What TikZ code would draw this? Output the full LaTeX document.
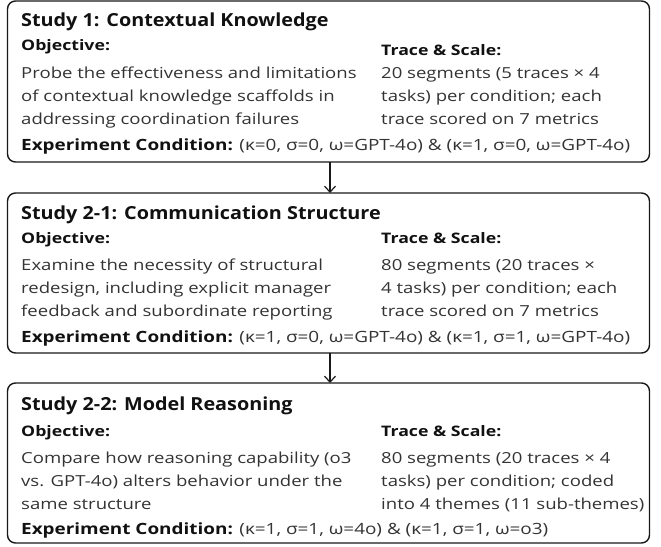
\documentclass[tikz,border=0pt]{standalone}
\usepackage{fontspec}
\setmainfont{Open Sans}[FakeStretch=1.22]
\newfontfamily\ttlfont{Open Sans}[FakeStretch=1.1]
\usetikzlibrary{arrows.meta}
\definecolor{txt}{HTML}{333333}
\definecolor{hd}{HTML}{111111}
\begin{document}
\begin{tikzpicture}[x=1pt,y=-1pt,
  box/.style={draw=black!90, line width=1.4pt, rounded corners=8pt, minimum width=642pt, inner sep=0pt, outer sep=0pt},
  ttl/.style={anchor=base west, inner sep=0pt, font=\ttlfont\fontsize{18}{20}\selectfont\bfseries, text=hd},
  hdg/.style={anchor=base west, inner sep=0pt, font=\fontsize{14.5}{17}\selectfont\bfseries, text=hd},
  bod/.style={anchor=base west, inner sep=0pt, font=\fontsize{15.2}{22.8}\selectfont, text=txt, align=left},
  expl/.style={anchor=base west, inner sep=0pt, font=\fontsize{15.5}{17}\selectfont, text=txt},
  arr/.style={draw=black!90, line width=1.2pt, -{Straight Barb[length=6pt,width=11pt]}}
]
\useasboundingbox (0,0) rectangle (661,546);

% boxes
\node[box, minimum height=161pt] (b1) at (328.5,81.5) {};
\node[box, minimum height=160pt] (b2) at (328.5,273) {};
\node[box, minimum height=160pt] (b3) at (328.5,463) {};

% box 1 (multi-line nodes anchored at last baseline)
\node[ttl] (t1) at (21,27) {Study 1: Contextual Knowledge};
\node[hdg] (o1) at (21,50) {Objective:};
\node[hdg] (s1) at (381,55) {Trace \& Scale:};
\node[bod] (ob1) at (21,124) {Probe the effectiveness and limitations\\of contextual knowledge scaffolds in\\addressing coordination failures};
\node[bod] (sb1) at (381,124) {20 segments (5 traces × 4\\tasks) per condition; each\\trace scored on 7 metrics};
\node[expl] (e1) at (21,150) {{\bfseries\color{hd}Experiment Condition:} (κ=0, σ=0, ω=GPT-4o) \& (κ=1, σ=0, ω=GPT-4o)};

% box 2
\node[ttl] (t2) at (21,219) {Study 2-1: Communication Structure};
\node[hdg] (o2) at (21,243) {Objective:};
\node[hdg] (s2) at (381,243) {Trace \& Scale:};
\node[bod] (ob2) at (21,316) {Examine the necessity of structural\\redesign, including explicit manager\\feedback and subordinate reporting};
\node[bod] (sb2) at (381,316) {80 segments (20 traces ×\\4 tasks) per condition; each\\trace scored on 7 metrics};
\node[expl] (e2) at (21,342) {{\bfseries\color{hd}Experiment Condition:} (κ=1, σ=0, ω=GPT-4o) \& (κ=1, σ=1, ω=GPT-4o)};

% box 3
\node[ttl] (t3) at (21,410) {Study 2-2: Model Reasoning};
\node[hdg] (o3) at (21,436) {Objective:};
\node[hdg] (s3) at (381,436) {Trace \& Scale:};
\node[bod] (ob3) at (21,509) {Compare how reasoning capability (o3\\vs. GPT-4o) alters behavior under the\\same structure};
\node[bod] (sb3) at (381,509) {80 segments (20 traces × 4\\tasks) per condition; coded\\into 4 themes (11 sub-themes)};
\node[expl] (e3) at (21,534) {{\bfseries\color{hd}Experiment Condition:} (κ=1, σ=1, ω=4o) \& (κ=1, σ=1, ω=o3)};

% connectors
\draw[arr] ([xshift=1.5pt]b1.south) -- ([xshift=1.5pt]b2.north);
\draw[arr] ([xshift=1.5pt]b2.south) -- ([xshift=1.5pt]b3.north);
\end{tikzpicture}
\end{document}
